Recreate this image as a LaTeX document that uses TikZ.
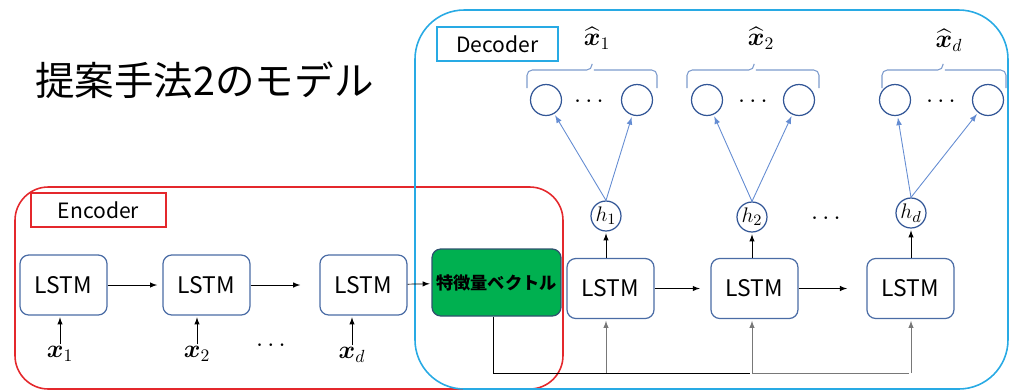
\documentclass[tikz,border=0pt]{standalone}
\usepackage[no-math]{fontspec}
\setmainfont{Noto Sans CJK JP}
\usepackage{amsmath,bm}
\usetikzlibrary{arrows}

\definecolor{encred}{RGB}{228,40,44}
\definecolor{decblue}{RGB}{40,170,228}
\definecolor{lstmblue}{RGB}{74,108,165}
\definecolor{unitblue}{RGB}{50,86,150}
\definecolor{arrowblue}{RGB}{100,140,210}
\definecolor{brkblue}{RGB}{125,155,205}
\definecolor{featgreen}{RGB}{0,176,80}
\definecolor{featedge}{RGB}{47,82,110}
\definecolor{busgray}{RGB}{120,120,120}

\newcommand{\outbrace}[3]{\draw[brk] (#1,88) |- (#2,70) -- (#2,62); \draw[brk] (#3,88) |- (#2,70);}

\begin{document}
\begin{tikzpicture}[x=0.02cm,y=-0.02cm,>=latex,shorten >=1pt,
	lstm/.style={draw=lstmblue,fill=white,rounded corners=5pt,minimum width=1.74cm,minimum height=1.2cm,line width=0.7pt,font=\fontsize{13}{15}\selectfont},
	featbox/.style={draw=featedge,fill=featgreen,rounded corners=5pt,minimum width=2.58cm,minimum height=1.34cm,inner sep=1pt,line width=0.7pt,font=\fontsize{9.8}{11}\selectfont\bfseries},
	outunit/.style={circle,draw=unitblue,minimum size=0.62cm,inner sep=0pt,line width=0.7pt},
	hcirc/.style={circle,draw=unitblue,fill=white,minimum size=0.6cm,inner sep=0pt,line width=0.7pt,font=\fontsize{13}{14}\selectfont},
	boxlabel/.style={draw,minimum height=0.68cm,line width=0.8pt,font=\fontsize{12}{13}\selectfont},
	mathlabel/.style={inner sep=1pt,font=\fontsize{14}{16}\selectfont},
	outarrow/.style={->,draw=arrowblue,line width=0.5pt},
	brk/.style={draw=brkblue,line width=0.6pt,rounded corners=3pt}]

\useasboundingbox (0,0) rectangle (1009,390);

\node[anchor=west,inner sep=0pt,font=\fontsize{22.5}{27}\selectfont] (title) at (35,80) {提案手法2のモデル};

\draw[encred,line width=0.9pt,rounded corners=19pt] (15,187) rectangle (563,389);
\draw[decblue,line width=0.9pt,rounded corners=28pt] (415,10) rectangle (1008,389);
\node[boxlabel,draw=encred,minimum width=2.7cm] (enc) at (98.5,210) {Encoder};
\node[boxlabel,draw=decblue,minimum width=2.42cm] (dec) at (497.5,44) {Decoder};

\node[lstm] (e1) at (63.5,285) {LSTM};
\node[lstm] (e2) [right of=e1,node distance=2.86cm] {LSTM};
\node[lstm] (e3) [right of=e2,node distance=3.14cm] {LSTM};
\node[featbox] (feat) at (496.5,282.5) {特徴量ベクトル};

\node[mathlabel] (x1) at (60,354) {$\bm{x}_1$};
\node[mathlabel] (x2) at (197,354) {$\bm{x}_2$};
\node[mathlabel] (x3) at (352,355) {$\bm{x}_d$};
\node[mathlabel] (edots) at (273,346) {$\cdots$};

\node[lstm] (d1) at (610.5,288.5) {LSTM};
\node[lstm] (d2) [right of=d1,node distance=2.88cm] {LSTM};
\node[lstm] (d3) [right of=d2,node distance=3.12cm] {LSTM};

\node[hcirc] (h1) at (606,216) {$h_1$};
\node[hcirc] (h2) at (752,217) {$h_2$};
\node[hcirc] (h3) at (911,213) {$h_d$};
\node[mathlabel] (hdots) at (828,219) {$\cdots$};

\node[outunit] (o11) at (546,100) {};
\node[outunit] (o12) at (637,100) {};
\node[outunit] (o21) at (707,100) {};
\node[outunit] (o22) at (799,100) {};
\node[outunit] (o31) at (895,100) {};
\node[outunit] (o32) at (988,100) {};
\node[mathlabel] (odots1) at (591,102) {$\cdots$};
\node[mathlabel] (odots2) at (755,102) {$\cdots$};
\node[mathlabel] (odots3) at (943,102) {$\cdots$};

\outbrace{527}{592}{657}
\outbrace{687}{754}{819}
\outbrace{882}{943}{1006}
\node[mathlabel] (y1) at (597,38) {$\widehat{\bm{x}}_1$};
\node[mathlabel] (y2) at (761,38) {$\widehat{\bm{x}}_2$};
\node[mathlabel] (y3) at (949,40) {$\widehat{\bm{x}}_d$};

\path[->] (e1) edge[shorten >=3pt] (e2);
\coordinate (gap) at (302,285);
\draw[->] (e2) -- (gap);
\draw[->] (e3) -- (feat);
\draw[->] (x1) -- (e1.south -| x1);
\draw[->] (x2) -- (e2.south -| x2);
\draw[->] (x3) -- (e3.south -| x3);

\path[->] (d1) edge[shorten >=6pt] (d2)
	(d2) edge[shorten >=11pt] (d3);

\coordinate (bus) at (493,373);
\draw (feat.south -| bus) -- (bus) -- (bus -| h2);
\draw[busgray] (bus -| h2) -- (bus -| h3);
\draw[->,busgray] (bus -| h1) -- (d1.south -| h1);
\draw[->,busgray] (bus -| h2) -- (d2.south -| h2);
\draw[->,busgray] (bus -| h3) -- (d3.south -| h3);

\draw[->] (d1.north -| h1) -- (h1);
\draw[->] (d2.north -| h2) -- (h2);
\draw[->] (d3.north -| h3) -- (h3);

\draw[outarrow] (h1.north) -- (o11);
\draw[outarrow] (h1.north) -- (o12);
\draw[outarrow] (h2.north) -- (o21);
\draw[outarrow] (h2.north) -- (o22);
\draw[outarrow] (h3.north) -- (o31);
\draw[outarrow] (h3.north) -- (o32);
\end{tikzpicture}
\end{document}
